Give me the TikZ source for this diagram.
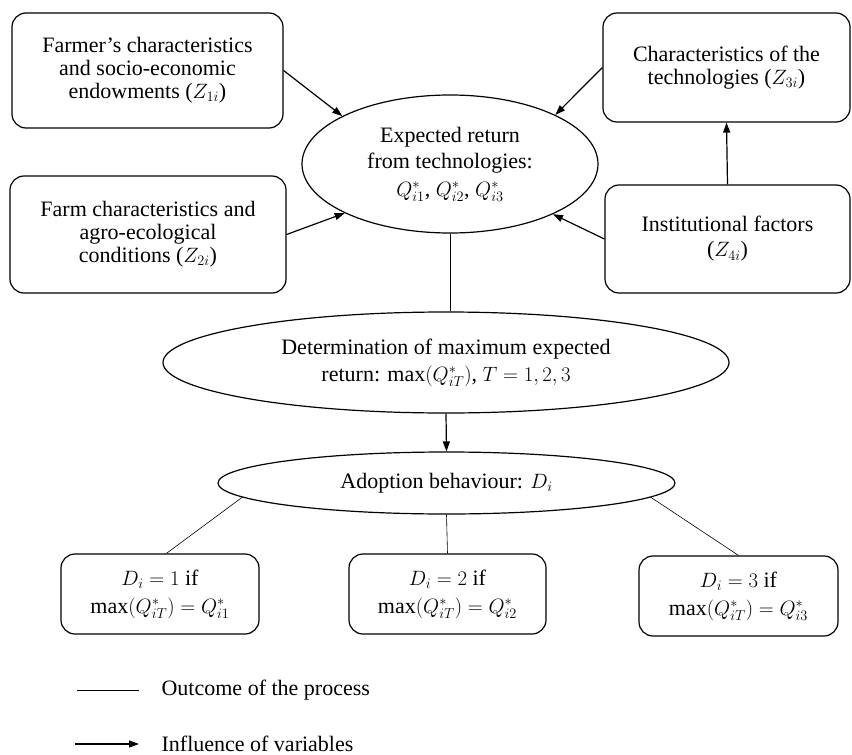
\documentclass[tikz,border=0pt]{standalone}
\usepackage{fontspec}
\setmainfont{Liberation Serif}
\usetikzlibrary{shapes.geometric, arrows.meta, positioning}

\begin{document}
\begin{tikzpicture}[x=1pt, y=-1pt, >={Triangle[length=10pt, width=7pt]}, line width=1.2pt,
    box/.style={draw, rounded corners=14pt, align=center, inner sep=0pt, font=\fontsize{22}{23}\selectfont},
    oval/.style={draw, ellipse, align=center, inner sep=0pt, font=\fontsize{22}{23}\selectfont},
    legend/.style={anchor=west, inner sep=0pt, font=\fontsize{22}{23}\selectfont},
    outcome/.style={-, line width=0.6pt},
    influence/.style={->, line width=1.2pt}]
    \useasboundingbox (0,0) rectangle (852,755);
    	% factors
    	\node[box, minimum width=271pt, minimum height=115pt] (f1) at (147.5,70.5) {Farmer’s characteristics\\ and socio-economic\\ endowments ($Z_{1i}$)};
    	\node[box, minimum width=276pt, minimum height=117pt] (f2) at (148,234.5) {Farm characteristics and\\ agro-ecological\\ conditions ($Z_{2i}$)};
    	\node[box, minimum width=247pt, minimum height=109pt] (t3) at (726.5,67.5) {Characteristics of the\\ technologies ($Z_{3i}$)};
    	\node[box, minimum width=245pt, minimum height=108pt] (i4) at (727.5,239) {Institutional factors\\[2pt] ($Z_{4i}$)};
    	% process
    	\node[oval, minimum width=296pt, minimum height=138pt] (e1) at (450,164) {Expected return\\[3pt] from technologies:\\[5pt] $Q^*_{i1}$, $Q^*_{i2}$, $Q^*_{i3}$};
    	\node[oval, minimum width=566pt, minimum height=101pt] (e2) at (446,362.5) {Determination of maximum expected\\[4pt] return: $\max(Q^*_{iT})$, $T = 1, 2, 3$};
    	\node[oval, minimum width=457pt, minimum height=62pt] (e3) at (446.5,483) {Adoption behaviour: $D_i$};
    	% outcomes
    	\node[box, minimum width=198pt, minimum height=80pt] (b1) at (160,594) {$D_i = 1$ if\\[5pt] $\max(Q^*_{iT}) = Q^*_{i1}$};
    	\node[box, minimum width=197pt, minimum height=80pt] (b2) at (447.5,594) {$D_i = 2$ if\\[5pt] $\max(Q^*_{iT}) = Q^*_{i2}$};
    	\node[box, minimum width=199pt, minimum height=80pt] (b3) at (738.5,596) {$D_i = 3$ if\\[5pt] $\max(Q^*_{iT}) = Q^*_{i3}$};
    	\draw[influence] (f1.east) -- (e1.156);
    	\draw[influence] (f2.east) -- (e1.205);
    	\draw[influence] (t3.west) -- (e1.25);
    	\draw[influence] (i4.west) -- (e1.334);
    	\draw[influence] (i4.north) -- (t3.south);
    	\draw[outcome] (e1.south) -- (e1.south |- e2.north);
    	\draw[influence] (e2.south) -- (e3.north);
    	\draw[outcome] (e3.184) -- (b1.81);
    	\draw[outcome] (e3.south) -- (b2.north);
    	\draw[outcome] (e3.356) -- (b3.north);
    	% legend
    	\coordinate (out0) at (77,690);
    	\coordinate (out1) at (139,690);
    	\coordinate (inf0) at (75,744);
    	\coordinate (inf1) at (139,744);
    	\node[legend] (outtxt) at (161,690) {Outcome of the process};
    	\node[legend] (inftxt) at (161,744) {Influence of variables};
    	\draw[outcome] (out0) -- (out1);
    	\draw[influence] (inf0) -- (inf1);
\end{tikzpicture}
\end{document}
